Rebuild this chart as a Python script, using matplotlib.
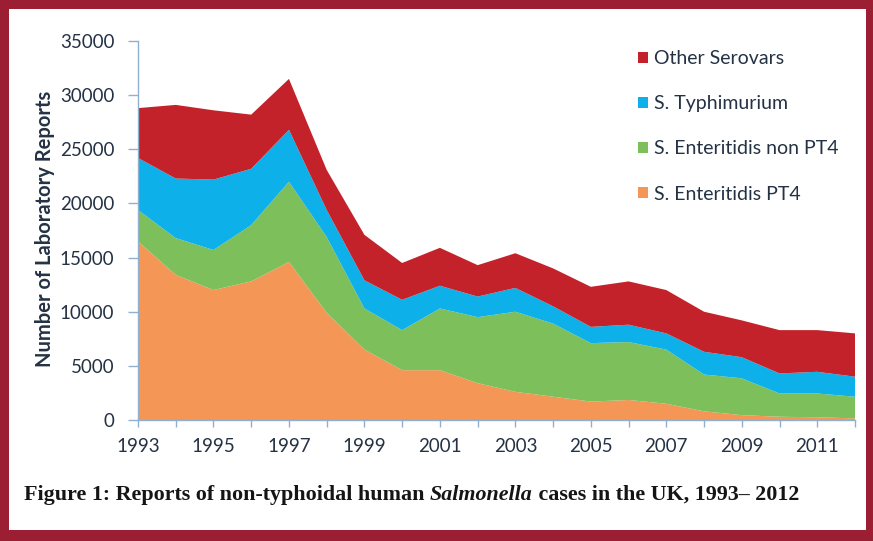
import matplotlib
matplotlib.use("Agg")
import matplotlib.pyplot as plt
from matplotlib.patches import Rectangle, Patch

years = list(range(1993, 2013))
pt4 = [16500, 13400, 12000, 12800, 14600, 9900, 6500, 4600, 4600, 3400,
       2600, 2150, 1700, 1850, 1500, 800, 450, 300, 250, 150]
non_pt4 = [2900, 3400, 3700, 5200, 7400, 7000, 3800, 3700, 5700, 6100,
           7400, 6750, 5400, 5350, 5000, 3400, 3400, 2150, 2200, 2000]
typhimurium = [4800, 5500, 6500, 5200, 4800, 2500, 2600, 2800, 2100, 1900,
               2200, 1600, 1500, 1600, 1500, 2100, 1950, 1850, 2000, 1850]
other = [4600, 6800, 6400, 5000, 4700, 3700, 4200, 3400, 3500, 2900,
         3200, 3500, 3700, 4000, 4000, 3700, 3400, 4000, 3850, 4000]
series_labels = ["S. Enteritidis PT4", "S. Enteritidis non PT4",
                 "S. Typhimurium", "Other Serovars"]
colors = ["#F39656", "#7DC05B", "#0DB0E8", "#C4222A"]
y_ticks = [0, 5000, 10000, 15000, 20000, 25000, 30000, 35000]
x_label_years = list(range(1993, 2012, 2))

W, H = 873, 541
fig = plt.figure(figsize=(W / 100, H / 100), dpi=100)
fig.patch.set_facecolor("#9B1E33")
fig.patches.append(Rectangle((9 / W, 1 - 530 / H), (866 - 9) / W, (530 - 9) / H,
                             transform=fig.transFigure, facecolor="white",
                             edgecolor="none", zorder=-5))

ax = fig.add_axes([138 / W, 1 - 420 / H, (855 - 138) / W, (420 - 41) / H])
ax.set_zorder(2)
ax.set_facecolor("none")
ax.stackplot(years, pt4, non_pt4, typhimurium, other, colors=colors,
             labels=series_labels, linewidth=0)
ax.set_xlim(1993, 2012)
ax.set_ylim(0, 35000)

txt_color = "#243244"
axis_color = "#8FB0CF"
for s in ["top", "right"]:
    ax.spines[s].set_visible(False)
for s in ["left", "bottom"]:
    ax.spines[s].set_color(axis_color)
    ax.spines[s].set_linewidth(1.0)

ax.set_yticks(y_ticks)
ax.set_yticklabels([str(v) for v in y_ticks])
ax.set_xticks(years, minor=True)
ax.set_xticks(x_label_years)
ax.set_xticklabels([str(y) for y in x_label_years])
ax.tick_params(axis="both", which="both", color=axis_color, width=1)
ax.tick_params(axis="x", which="both", length=5)
ax.tick_params(axis="y", which="major", length=7)
ax.tick_params(axis="both", which="major", labelsize=13.5, labelcolor=txt_color)
ax.tick_params(axis="x", which="major", pad=8)
ax.tick_params(axis="y", which="major", pad=10)
for lab in ax.get_xticklabels() + ax.get_yticklabels():
    lab.set_family("Lato")

fig.text(45 / W, 1 - 229 / H, "Number of Laboratory Reports", rotation=90,
         ha="center", va="center", fontsize=14.5, fontweight="bold",
         color=txt_color, family="Lato")

handles = [Patch(facecolor=c, edgecolor="none") for c in colors]
leg = ax.legend(handles[::-1], series_labels[::-1], loc="upper left",
                bbox_to_anchor=(638 / W, 1 - 50 / H),
                bbox_transform=fig.transFigure, frameon=False, fontsize=14,
                handlelength=0.5, handleheight=0.5, handletextpad=0.3,
                labelspacing=1.45, borderaxespad=0, borderpad=0)
for t in leg.get_texts():
    t.set_color(txt_color)
    t.set_family("Lato")

# caption
parts = [("Figure 1: Reports of non-typhoidal human ", "normal"),
         ("Salmonella", "italic"),
         (" cases in the UK, 1993\u2013 2012", "normal")]
fig.canvas.draw()
renderer = fig.canvas.get_renderer()
x = 24 / W
for s, style in parts:
    t = fig.text(x, 1 - 500 / H, s, fontsize=15.8, fontweight="bold", style=style,
                 family="Liberation Serif", color="#151515", ha="left",
                 va="baseline")
    bb = t.get_window_extent(renderer)
    x += bb.width / W

fig.savefig("out.png", dpi=100, facecolor=fig.get_facecolor())
